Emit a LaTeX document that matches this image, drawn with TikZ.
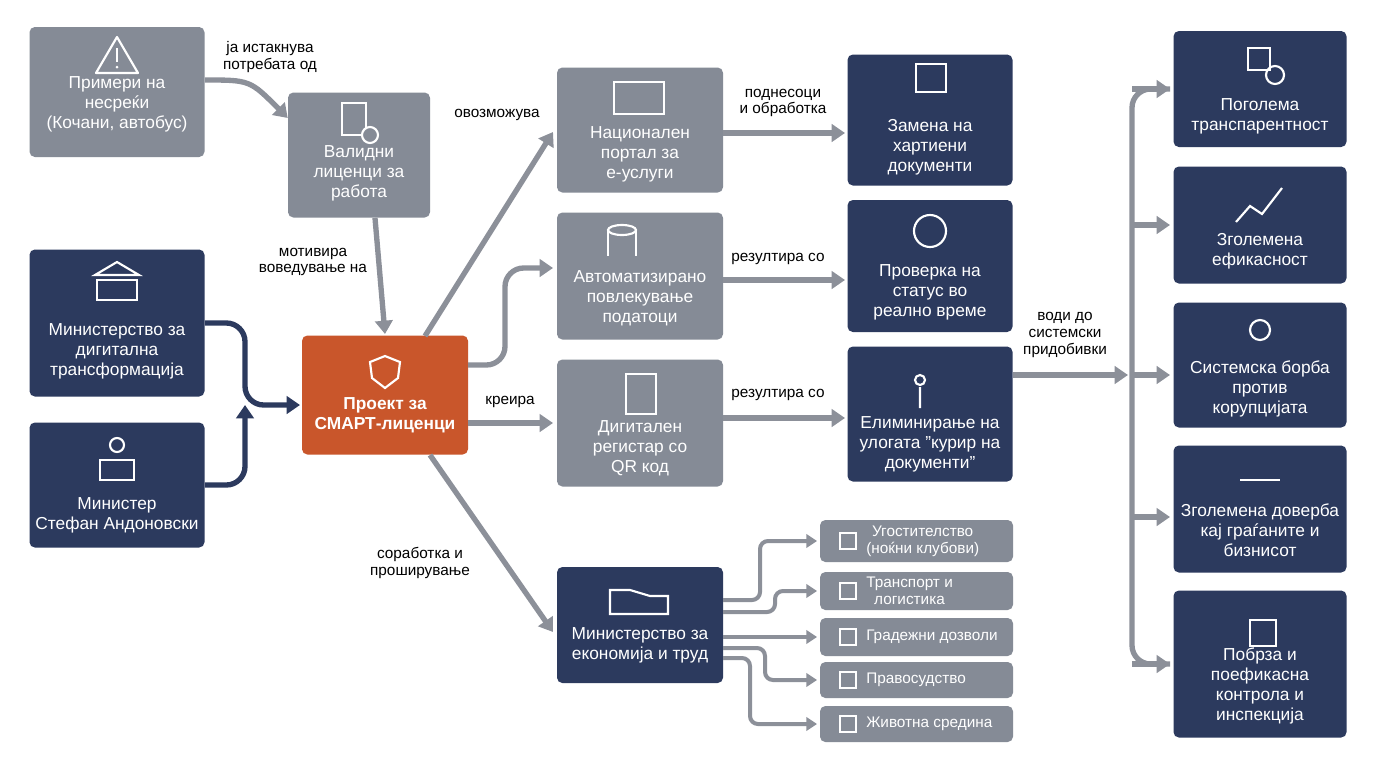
\documentclass[tikz,border=0pt]{standalone}
\usepackage{fontspec}
\setmainfont{Liberation Sans}
\usetikzlibrary{arrows.meta,calc}
\definecolor{gbox}{HTML}{858B96}
\definecolor{nbox}{HTML}{2C3A5E}
\definecolor{obox}{HTML}{C9562B}
\definecolor{arr}{HTML}{8C9099}
\begin{document}
\begin{tikzpicture}[x=0.75pt,y=-0.75pt,
 bx/.style={rounded corners=4pt,draw=none,inner sep=0pt},
 g/.style={bx,fill=gbox},
 n/.style={bx,fill=nbox},
 o/.style={bx,fill=obox},
 t/.style={text=white,align=center,font=\fontsize{13}{15}\selectfont,inner sep=0pt},
 lb/.style={align=center,font=\fontsize{11.5}{12.5}\selectfont,inner sep=0pt},
 ic/.style={draw=white,line width=1.6pt,fill=none},
 ar/.style={draw=arr,line width=4pt,-{Triangle[length=10pt,width=13pt]},rounded corners=14pt},
 nr/.style={draw=nbox,line width=4pt,-{Triangle[length=10pt,width=13pt]},rounded corners=14pt},
 sar/.style={draw=arr,line width=3pt,-{Triangle[length=8pt,width=10pt]},rounded corners=6pt}]
\useasboundingbox (0,0) rectangle (1376,768);
\fill[white] (0,0) rectangle (1376,768);
\newcommand{\bx}[7]{\node[#1,minimum width=#4*0.75pt,minimum height=#5*0.75pt] (#2) at (#3) {};
 \node[t] (#2t) at ($(#2.center)+(0,#6)$) {#7};}
\bx{g}{A}{117,92}{175}{130}{12}{Примери на\\несреќи\\(Кочани, автобус)}
\bx{g}{B}{359,155}{142}{125}{18}{Валидни\\лиценци за\\работа}
\bx{n}{C}{117,323}{175}{147}{28}{Министерство за\\дигитална\\трансформација}
\bx{n}{D}{117,485}{175}{125}{30}{Министер\\Стефан Андоновски}
\bx{o}{E}{385,395}{166}{119}{20}{\bfseries Проект за\\\bfseries СМАРТ-лиценци}
\bx{g}{F}{640,130}{166}{125}{24}{Национален\\портал за\\е-услуги}
\bx{g}{G}{640,276}{166}{127}{22}{Автоматизирано\\повлекување\\податоци}
\bx{g}{H}{640,423}{166}{127}{25}{Дигитален\\регистар со\\QR код}
\bx{n}{I}{640,625}{166}{116}{20}{Министерство за\\економија и труд}
\bx{n}{J}{930,120}{165}{131}{27}{Замена на\\хартиени\\документи}
\bx{n}{K}{930,266}{165}{132}{26}{Проверка на\\статус во\\реално време}
\bx{n}{L}{930,414}{165}{135}{30}{Елиминирање на\\улогата "курир на\\документи"}
\bx{n}{R1}{1260,89}{173}{116}{27}{Поголема\\транспарентност}
\bx{n}{R2}{1260,225}{173}{117}{26}{Зголемена\\ефикасност}
\bx{n}{R3}{1260,365}{173}{125}{24}{Системска борба\\против\\корупцијата}
\bx{n}{R4}{1260,509}{173}{127}{21}{Зголемена доверба\\кај граѓаните и\\бизнисот}
\bx{n}{R5}{1260,664}{173}{147}{22}{Побрза и\\поефикасна\\контрола и\\инспекција}
\foreach \nm/\y/\h/\tx in {S1/541/42/{Угостителство\\(ноќни клубови)},S2/591/38/{Транспорт и\\логистика},S3/637/38/{Градежни дозволи},S4/680/36/{Правосудство},S5/724/36/{Животна средина}}{
 \node[g,minimum width=193*0.75pt,minimum height=\h*0.75pt] (\nm) at (916.5,\y) {};
 \node[t,font=\fontsize{11.5}{12.5}\selectfont,anchor=west] at (866,\y) {\tx};
 \draw[white,line width=1.2pt] (840,\y-8) rectangle (856,\y+8);
}
\draw[ic,line join=round] (117,37)--(96,73)--(138,73)--cycle; \draw[white,line width=2pt](117,48)--(117,62); \fill[white](117,67) circle(1.5);
\draw[ic] (342,103) rectangle (366,135); \draw[ic,fill=gbox](370,135) circle(8);
\draw[ic] (95,275)--(139,275)--(117,262)--cycle; \draw[ic](97,280) rectangle (137,300);
\draw[ic] (117,445) circle(7); \draw[ic] (100,460) rectangle (134,480);
\draw[ic] (385,356) -- (400,362) -- (398,378) -- (385,388) -- (372,378) -- (370,362) -- cycle;
\draw[ic] (614,82) rectangle (664,114); \draw[ic] (622,230) ellipse (14 and 5); \draw[ic](608,230)--(608,256) (636,230)--(636,256);
\draw[ic] (626,374) rectangle (656,414);
\draw[ic] (610,590) -- (610,614) -- (668,614)-- (668,596)--(650,596)--(630,590)--cycle;
\draw[ic] (916,64) rectangle (946,92); \draw[ic] (930,231) circle(16);
\draw[ic] (920,380) circle(5) (920,387)--(920,408);
\draw[ic] (1248,48) rectangle (1270,70); \draw[ic](1275,75) circle(9);
\draw[ic] (1236,222)--(1250,206)--(1262,214)--(1282,188);
\draw[ic] (1260,330) circle(10); \draw[ic] (1240,480)--(1280,480);
\draw[ic] (1250,620) rectangle (1276,646);
\draw[ar] (A.east|-0,80) .. controls (250,80) .. ($(B.west)+(0,-37)$);
\node[lb] at (270,57) {ја истакнува\\потребата од};
\draw[ar] (375,218) -- (385,334);
\node[lb] at (313,262) {мотивира\\воведување на};
\draw[nr] (C.east) -- (245,323) -- (245,405) -- (300,405);
\draw[nr] (D.east) -- (245,485) -- (245,405);
\draw[ar] (425,336) -- (553,132);
\node[lb] at (497,115) {овозможува};
\draw[ar] (468,365) -- (505,365) -- (505,268) -- (553,268);
\draw[ar] (E.east|-0,423) -- (553,423);
\node[lb] at (510,402) {креира};
\draw[ar] (430,455) -- (553,632);
\node[lb] at (420,563) {соработка и\\проширување};
\draw[ar] (F.east|-0,133) -- (845,133); \node[lb] at (783,103) {поднесоци\\и обработка};
\draw[ar] (G.east|-0,280) -- (845,280); \node[lb] at (778,259) {резултира со};
\draw[ar] (H.east|-0,418) -- (845,418); \node[lb] at (778,395) {резултира со};
\draw[sar] (723,600) -- (760,600) -- (760,541) -- (817,541);
\draw[sar] (723,612) -- (775,612) -- (775,591) -- (817,591);
\draw[sar] (I.east|-0,637) -- (817,637);
\draw[sar] (723,648) -- (765,648) -- (765,680) -- (817,680);
\draw[sar] (723,658) -- (750,658) -- (750,724) -- (817,724);
\draw[ar] (L.east|-0,375) -- (1128,375);
\node[lb] at (1065,335) {води до\\системски\\придобивки};
\draw[draw=arr,line width=4pt,rounded corners=14pt] (1170,89) -- (1132,89) -- (1132,664) -- (1170,664);
\foreach \r/\y in {R1/89,R2/225,R3/375,R4/517,R5/664}{\draw[ar] (1132,\y) -- (1170,\y);}
\end{tikzpicture}
\end{document}
